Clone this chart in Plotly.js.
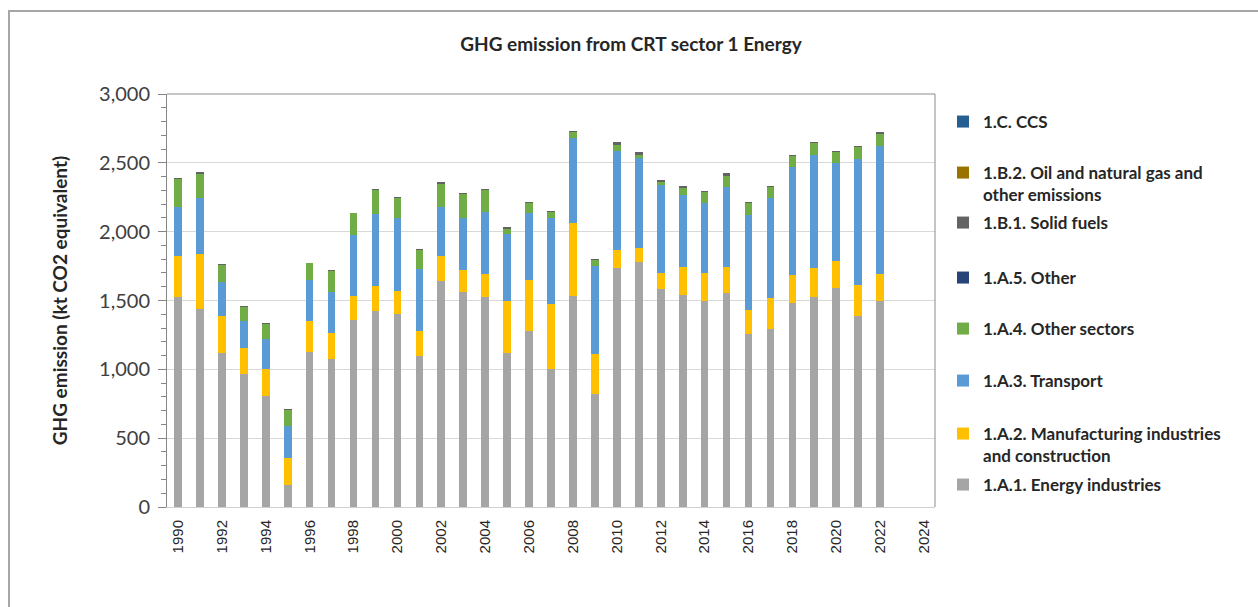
<!DOCTYPE html>
<html><head><meta charset="utf-8">
<script src="https://cdn.plot.ly/plotly-3.0.1.min.js"></script>
<style>
html,body{margin:0;padding:0;background:#fff;overflow:hidden;}
#chart{width:1258px;height:607px;}
#frame{position:absolute;left:8px;top:10px;width:1250px;height:597px;border-left:2px solid #a6a6a6;border-top:2px solid #a6a6a6;pointer-events:none;box-sizing:border-box;}
</style>
</head><body>
<div id="chart"></div><div id="frame"></div>
<script>
// ---- data (kt CO2 equivalent) ----
const years = [1990,1991,1992,1993,1994,1995,1996,1997,1998,1999,2000,2001,2002,2003,2004,2005,2006,2007,2008,2009,2010,2011,2012,2013,2014,2015,2016,2017,2018,2019,2020,2021,2022];
const tickLabels = ['1990','1992','1994','1996','1998','2000','2002','2004','2006','2008','2010','2012','2014','2016','2018','2020','2022','2024'];
const energyIndustries = [1527,1439,1122,964,804,160,1127,1076,1362,1425,1400,1100,1643,1560,1527,1122,1279,1001,1534,819,1733,1781,1587,1539,1493,1558,1255,1292,1485,1527,1594,1388,1493];
const manufacturing = [293,400,264,194,202,199,225,186,172,177,170,179,177,158,164,375,369,472,526,291,133,97,116,208,210,189,177,225,201,208,194,226,198];
const transport = [361,402,247,194,218,230,298,303,441,525,526,449,361,378,449,485,484,623,620,642,717,657,635,521,502,574,691,724,781,824,708,913,928];
const otherSectors = [199,177,126,104,104,116,119,151,157,177,145,138,165,177,162,41,78,48,41,44,48,24,22,48,80,85,87,80,84,82,80,85,90];
const otherA5 = years.map(() => 0);
const solidFuels = [7,12,7,5,5,5,7,7,5,8,8,7,12,5,5,12,7,8,12,7,17,17,17,13,7,19,7,8,8,10,7,7,12];
const oilGas = years.map(() => 0);
const ccs = years.map(() => 0);
const seriesNames = [
  '1.A.1. Energy industries',
  '1.A.2. Manufacturing industries<br>and construction',
  '1.A.3. Transport',
  '1.A.4. Other sectors',
  '1.A.5. Other',
  '1.B.1. Solid fuels',
  '1.B.2. Oil and natural gas and<br>other emissions',
  '1.C. CCS'
];
const seriesValues = [energyIndustries, manufacturing, transport, otherSectors, otherA5, solidFuels, oilGas, ccs];

// ---- styles ----
const colors = ['#a5a5a5','#ffc000','#5b9bd5','#70ad47','#264478','#636363','#997300','#255e91'];
const W = 1258, H = 607;
const legendFirstLineY = [485, 434, 381, 329, 278, 223, 173, 122];
const legendKeys = ['legend','legend2','legend3','legend4','legend5','legend6','legend7','legend8'];

const traces = seriesValues.map((vals, i) => ({
  type: 'bar',
  x: years,
  y: vals,
  name: seriesNames[i],
  marker: {color: colors[i], line: {width: 0}},
  legend: legendKeys[i],
  showlegend: true,
  hoverinfo: 'skip'
}));

const layout = {
  width: W, height: H,
  paper_bgcolor: '#ffffff', plot_bgcolor: '#ffffff',
  margin: {l: 167, r: 323, t: 94, b: 100, pad: 0},
  barmode: 'stack',
  bargap: 0.65,
  showlegend: true,
  font: {family: 'Lato, "Open Sans", sans-serif', color: '#404040'},
  title: {
    text: 'GHG emission from CRT sector 1 Energy',
    font: {family: 'Lato, sans-serif', size: 19, weight: 'bold', color: '#262626'},
    x: 631 / W, xref: 'container', xanchor: 'center',
    y: 1 - 44 / H, yref: 'container', yanchor: 'middle'
  },
  xaxis: {
    type: 'linear',
    range: [1989.5, 2024.5],
    tickvals: tickLabels.map(Number),
    ticktext: tickLabels,
    tickangle: -90,
    ticks: '',
    showgrid: false,
    zeroline: false,
    showline: true, linecolor: '#d0d0d0', linewidth: 1,
    tickfont: {family: '"Liberation Sans", Arial, sans-serif', size: 15, color: '#262626'},
    ticklabelstandoff: 6,
    fixedrange: true
  },
  yaxis: {
    range: [0, 3000],
    dtick: 500,
    tickformat: ',d',
    ticks: 'outside', ticklen: 8, tickcolor: '#868686', tickwidth: 1,
    minor: {dtick: 100, ticks: 'outside', ticklen: 5, tickcolor: '#868686', showgrid: false},
    showgrid: true, gridcolor: '#d9d9d9', gridwidth: 1,
    zeroline: false,
    showline: true, linecolor: '#868686', linewidth: 1,
    tickfont: {family: 'Lato, sans-serif', size: 20, color: '#404040'},
    ticklabelstandoff: 4,
    title: {
      text: 'GHG emission (kt CO2 equivalent)',
      font: {family: 'Lato, sans-serif', size: 19, weight: 'bold', color: '#262626'},
      standoff: 26
    },
    fixedrange: true
  },
  yaxis2: {
    overlaying: 'y', anchor: 'x', side: 'left',
    range: [0, 3000], dtick: 100,
    ticks: 'inside', ticklen: 5, tickcolor: '#868686', tickwidth: 1,
    showticklabels: false, showgrid: false, zeroline: false, showline: false,
    fixedrange: true
  },
  shapes: [
    {type: 'line', xref: 'paper', yref: 'paper', x0: 0, x1: 1, y0: 1, y1: 1, line: {color: '#8c8c8c', width: 1}},
    {type: 'line', xref: 'paper', yref: 'paper', x0: 1, x1: 1, y0: 0, y1: 1, line: {color: '#8c8c8c', width: 1}}
  ],
  hovermode: false
};

legendKeys.forEach((key, i) => {
  const twoLines = seriesNames[i].indexOf('<br>') >= 0;
  const cy = legendFirstLineY[i] + (twoLines ? 11 : 0);
  layout[key] = {
    visible: true,
    xref: 'container', yref: 'container',
    x: 943 / W, xanchor: 'left',
    y: 1 - cy / H, yanchor: 'middle',
    valign: 'top',
    bgcolor: 'rgba(0,0,0,0)', borderwidth: 0,
    font: {family: 'Lato, sans-serif', size: 17, weight: 'bold', color: '#262626'},
    itemclick: false, itemdoubleclick: false
  };
});

Plotly.newPlot('chart', traces, layout, {staticPlot: true, displayModeBar: false});
</script>
</body></html>
